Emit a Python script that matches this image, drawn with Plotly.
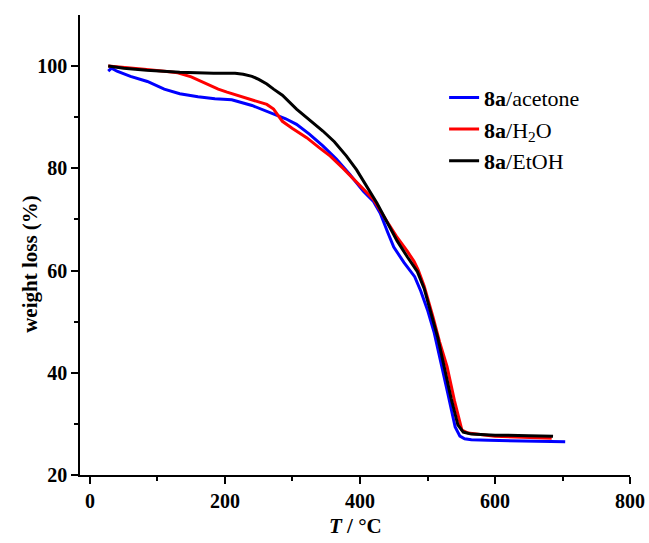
import plotly.graph_objects as go

# acetone (blue)
t_acetone = [27, 32, 40, 60, 85, 110, 133, 160, 185, 210, 240, 270, 290, 306, 325, 345, 365, 385, 405, 420, 430, 441, 450, 465, 481, 490, 500, 510, 520, 530, 541, 548, 555, 565, 590, 630, 670, 704]
v_acetone = [99.0, 99.6, 99.0, 98.0, 97.0, 95.5, 94.6, 94.0, 93.6, 93.4, 92.3, 90.8, 89.7, 88.6, 86.7, 84.4, 81.8, 78.8, 75.5, 73.5, 71.2, 67.5, 64.6, 61.6, 58.8, 56.0, 52.3, 47.8, 42.2, 36.0, 29.4, 27.6, 27.1, 26.9, 26.8, 26.7, 26.6, 26.5]

# H2O (red)
t_h2o = [27, 50, 80, 110, 130, 150, 173, 190, 203, 220, 232, 250, 262, 272, 278, 285, 300, 321, 340, 356, 375, 395, 420, 440, 454, 470, 480, 486, 495, 508, 518, 529, 540, 551, 560, 600, 650, 684]
v_h2o = [100.0, 99.8, 99.4, 99.0, 98.7, 97.9, 96.5, 95.5, 94.9, 94.2, 93.7, 93.1, 92.5, 91.6, 90.4, 89.2, 87.8, 86.0, 84.0, 82.4, 80.0, 77.3, 73.9, 69.6, 66.7, 63.8, 61.8, 60.2, 57.0, 51.0, 46.0, 41.2, 34.5, 28.8, 28.2, 27.6, 27.3, 27.2]

# EtOH (black)
t_etoh = [27, 50, 84, 133, 183, 215, 227, 240, 250, 262, 272, 285, 306, 330, 345, 362, 380, 395, 410, 425, 440, 455, 470, 485, 495, 505, 515, 525, 535, 545, 553, 565, 600, 650, 686]
v_etoh = [100.0, 99.6, 99.2, 98.8, 98.6, 98.6, 98.4, 98.0, 97.4, 96.5, 95.5, 94.3, 91.6, 89.0, 87.3, 85.2, 82.4, 79.7, 76.5, 73.2, 69.5, 65.8, 62.7, 59.8, 56.5, 52.0, 47.0, 41.0, 35.0, 29.8, 28.4, 28.0, 27.8, 27.7, 27.6]

series_names = ["<b>8a</b>/acetone", "<b>8a</b>/H<sub>2</sub>O", "<b>8a</b>/EtOH"]
series_colors = ["#0000ff", "#ff0000", "#000000"]

x_ticks = [0, 200, 400, 600, 800]
x_minor = [100, 300, 500, 700]
y_ticks = [20, 40, 60, 80, 100]
y_minor = [30, 50, 70, 90]
x_title = "<b><i>T</i> / °C</b>"
y_title = "<b>weight loss (%)</b>"

fig = go.Figure()
for i, (t, v) in enumerate([(t_acetone, v_acetone), (t_h2o, v_h2o), (t_etoh, v_etoh)]):
    fig.add_trace(go.Scatter(x=t, y=v, mode="lines", name=series_names[i],
                             line=dict(color=series_colors[i], width=3)))

ff = "Liberation Serif, Times New Roman, serif"
tickfont = dict(size=20, family=ff, color="black", weight="bold")
axis_common = dict(ticks="outside", ticklen=7, tickwidth=1.5, tickcolor="black",
                   showline=True, linecolor="black", linewidth=1.5, showgrid=False,
                   zeroline=False, tickfont=tickfont, automargin=False)
fig.update_layout(
    width=649, height=543,
    margin=dict(l=80, r=19, t=15, b=68, autoexpand=False),
    plot_bgcolor="white", paper_bgcolor="white",
    font=dict(family=ff, color="black"),
    showlegend=True,
    legend=dict(x=0.662, y=0.866, xanchor="left", yanchor="top",
                font=dict(size=22, family=ff, color="black"),
                bgcolor="rgba(0,0,0,0)"),
    xaxis=dict(range=[-14.8, 800], tickvals=x_ticks,
               minor=dict(tickvals=x_minor, ticks="outside", ticklen=4, tickwidth=1.5, tickcolor="black"),
               **axis_common),
    yaxis=dict(range=[20, 110], tickvals=y_ticks,
               minor=dict(tickvals=y_minor, ticks="outside", ticklen=4, tickwidth=1.5, tickcolor="black"),
               **axis_common),
    annotations=[
        dict(text=x_title, xref="paper", yref="paper", x=0.5, y=0, xanchor="center", yanchor="middle",
             yshift=-51, showarrow=False, font=dict(size=21, family=ff, color="black")),
        dict(text=y_title, xref="paper", yref="paper", x=0, y=0.459, xanchor="center", yanchor="middle",
             xshift=-50, textangle=-90, showarrow=False, font=dict(size=21, family=ff, color="black")),
    ],
)

fig.write_html("out.html", config={"displayModeBar": False},
               post_script="document.body.style.margin='0';")
